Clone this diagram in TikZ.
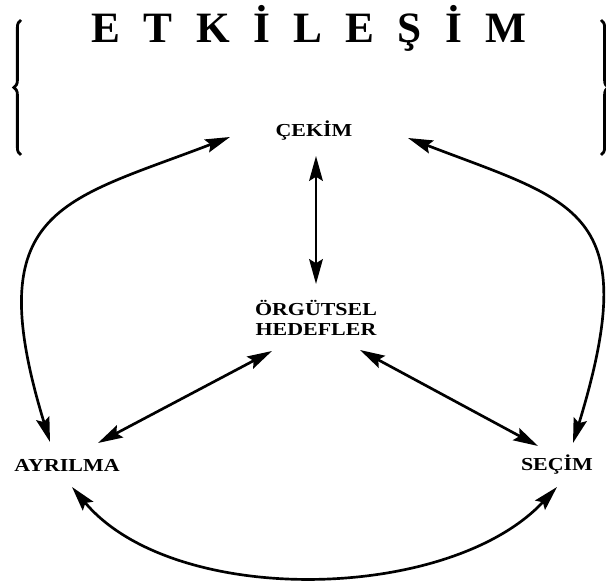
\documentclass[tikz,border=0pt]{standalone}
\usepackage{fontspec}
\setmainfont{Liberation Serif}
\newfontfamily\labelfont{Liberation Serif}[FakeStretch=1.2]
\usepackage{tikz}
\usetikzlibrary{arrows.meta,calc,decorations.pathreplacing}

\begin{document}
\begin{tikzpicture}[
        x=0.025cm, y=0.025cm,
        lbl/.style={font=\labelfont\bfseries\fontsize{13}{14.2}\selectfont,
                    inner sep=1pt, align=center},
        ttl/.style={font=\bfseries\fontsize{30.8}{36}\selectfont, inner sep=0pt},
        dbl/.style={{Stealth[length=0.62cm, width=0.34cm, inset=0.1cm]}-{Stealth[length=0.62cm, width=0.34cm, inset=0.1cm]},
                    line width=1.9pt},
        brc/.style={decorate, decoration={brace, amplitude=0.18cm}, line width=2pt}
    ]
        \useasboundingbox (0,0) rectangle (606,585);

        % heading and braces
        \node[ttl, anchor=base] (head) at (309,542)
            {E\hspace{0.54em}T\hspace{0.54em}K\hspace{0.54em}İ\hspace{0.54em}L\hspace{0.54em}E\hspace{0.54em}Ş\hspace{0.54em}İ\hspace{0.54em}M};
        \draw[brc] (21,430) -- (21,565);
        \draw[brc] (601,565) -- (601,430);

        % the four labels
        \node[lbl, anchor=base] (cekim)   at (314,448) {ÇEKİM};
        \node[lbl]              (orgut)   at (316,267) {ÖRGÜTSEL\\HEDEFLER};
        \node[lbl, anchor=base] (ayrilma) at (67,113)  {AYRILMA};
        \node[lbl, anchor=base] (secim)   at (557,114) {SEÇİM};

        % inner arrows
        \draw[dbl] ($(cekim.base)+(2,-19)$) -- ($(orgut)+(0,34)$);
        \draw[dbl] ($(orgut)+(-44,-33)$) -- ($(ayrilma.base)+(31,29)$);
        \draw[dbl] ($(orgut)+(44,-32)$)  -- ($(secim.base)+(-19,25)$);

        % outer loop
        \draw[dbl] ($(cekim.base)+(-84,0)$)
            .. controls +(201:180) and +(107:245) .. ($(ayrilma.base)+(-17,30)$);
        \draw[dbl] ($(cekim.base)+(94,-1)$)
            .. controls +(-21:180) and +(73:245) .. ($(secim.base)+(16,28)$);
        \draw[dbl] ($(ayrilma.base)+(5,-15)$)
            .. controls +(-50:158) and +(227:158) .. ($(secim.base)+(0,-16)$);
    \end{tikzpicture}
\end{document}
